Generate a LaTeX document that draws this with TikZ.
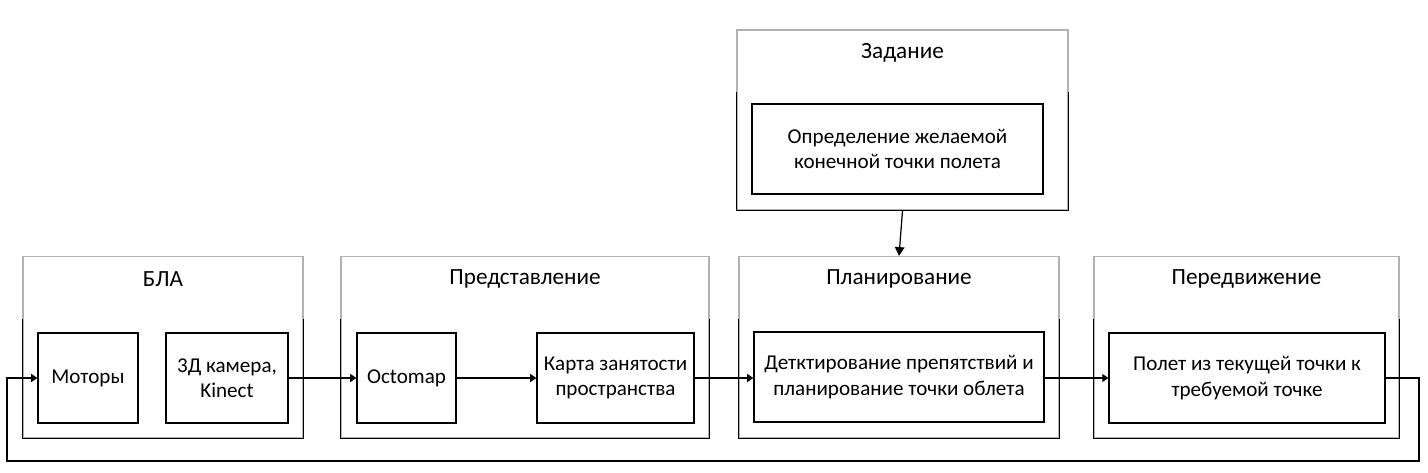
\documentclass[tikz,border=0pt]{standalone}
\usepackage{fontspec}
\setmainfont{Carlito}
\usetikzlibrary{arrows.meta, positioning}

\tikzset{
    outerbox/.style={draw=gray!60, line width=0.7pt, minimum height=3.62cm, inner sep=0pt},
    innerbox/.style={draw, line width=0.7pt, minimum height=1.8cm, align=center, inner sep=2pt},
    title/.style={font=\fontsize{13.2}{15}\selectfont},
    link/.style={line width=0.7pt, -{Triangle[length=3.5pt, width=4.5pt]}}
}

\begin{document}
\begin{tikzpicture}[font=\fontsize{12}{14.4}\selectfont]
\useasboundingbox (0,0) rectangle (28.56,-9.44);
% outer boxes
\node[outerbox, minimum width=5.6cm] (bla) at (3.26,-6.94) {};
\node[outerbox, minimum width=7.36cm] (pred) at (10.5,-6.94) {};
\node[outerbox, minimum width=6.4cm] (plan) at (17.98,-6.94) {};
\node[outerbox, minimum width=6.1cm] (move) at (24.93,-6.94) {};
\node[outerbox, minimum width=6.62cm, minimum height=3.6cm] (task) at (18.05,-2.4) {};
\foreach \n in {bla, pred, plan, move, task} {
    \draw[line width=0.7pt] ([yshift=2.38cm]\n.south west) |- (\n.south east) -- ([yshift=2.38cm]\n.south east);
}
% titles
\node[title] (tbla) at (3.26,-5.58) {БЛА};
\node[title] (tpred) at (10.5,-5.58) {Представление};
\node[title] (tplan) at (17.98,-5.58) {Планирование};
\node[title] (tmove) at (24.93,-5.58) {Передвижение};
\node[title] (ttask) at (18.05,-1.06) {Задание};
% inner boxes
\node[innerbox, minimum width=2cm] (motors) at (1.76,-7.56) {Моторы};
\node[innerbox, minimum width=2.44cm] (cam) at (4.54,-7.56) {3Д камера,\\Kinect};
\node[innerbox, minimum width=1.98cm] (octo) at (8.13,-7.56) {Octomap};
\node[innerbox, minimum width=3.14cm] (occ) at (12.31,-7.56) {Карта занятости\\пространства};
\node[innerbox, minimum width=5.8cm] (detect) at (17.98,-7.54) {Детктирование препятствий и\\планирование точки облета};
\node[innerbox, minimum width=5.52cm] (fly) at (24.94,-7.56) {Полет из текущей точки к\\требуемой точке};
\node[innerbox, minimum width=5.82cm] (goal) at (17.95,-2.98) {Определение желаемой\\конечной точки полета};
% connectors
\coordinate (fbr) at (28.38,-9.22);
\coordinate (fbl) at (0.14,-9.22);
\draw[link] (cam) -- (octo);
\draw[link] (octo) -- (occ);
\draw[link] (occ) -- (detect.west |- occ);
\draw[link] (detect.east |- fly) -- (fly);
\draw[link] (fly.east) -| (fbr) -- (fbl) |- (motors.west);
\draw[line width=0.7pt, -{Triangle[length=5pt, width=5.5pt]}] (task.south) -- (plan.north);
\end{tikzpicture}
\end{document}
